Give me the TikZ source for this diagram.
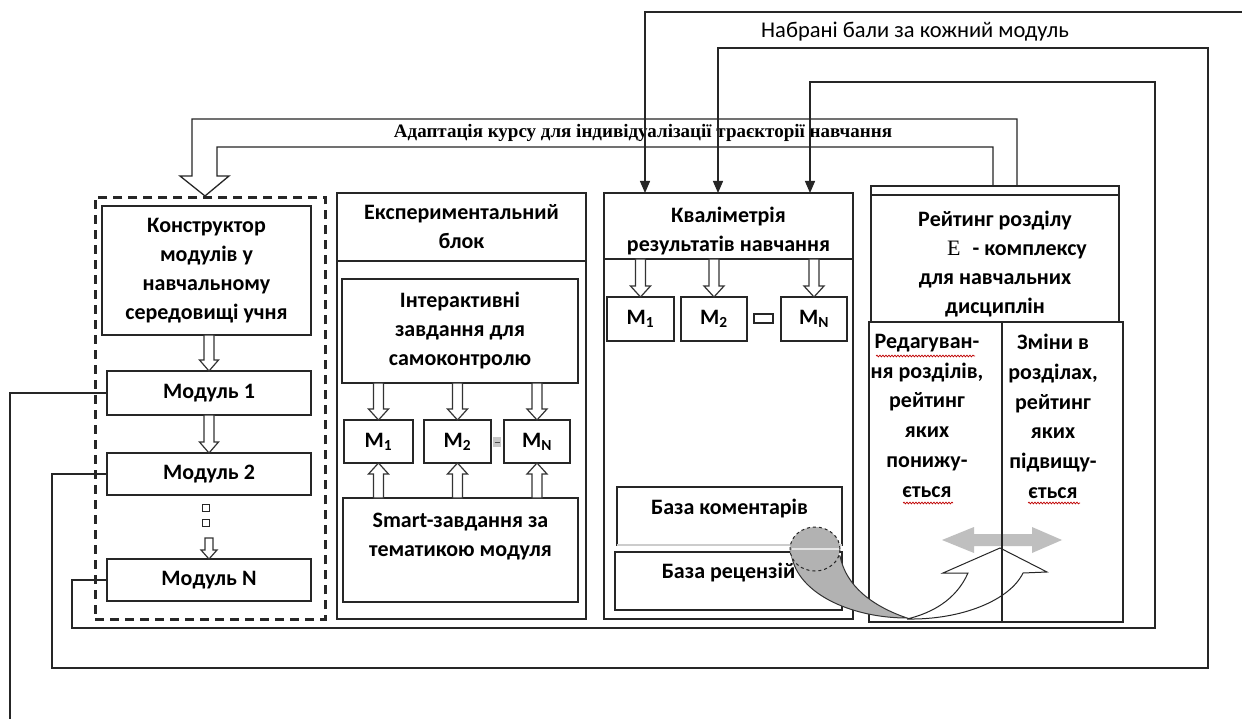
\documentclass[tikz,border=0pt]{standalone}
\usepackage{fontspec}
\newfontfamily\calib{Carlito}
\newfontfamily\tnr{Liberation Serif}
\usetikzlibrary{calc,arrows.meta,decorations.pathmorphing}
\newcommand\mybf{\calib\bfseries\fontsize{22}{29}\selectfont}
\newcommand\mybfw{\calib\bfseries\fontsize{22}{29.8}\selectfont}
\newcommand\myrg{\calib\fontsize{22.5}{26}\selectfont}
\tikzset{
 boxn/.style={draw=black!85, line width=1.3pt, inner sep=0pt, outer sep=0pt, anchor=north west, align=center, font=\mybf},
 txt/.style={inner sep=0pt, outer sep=0pt, align=center, font=\mybf},
 conn/.style={draw=black!85, line width=1.3pt},
 arr/.style={conn, -{Triangle[length=12pt,width=10pt]}},
 blk/.style={draw=black!80, line width=1.2pt, fill=white, line join=miter},
 squig/.style={draw=red!75!black, line width=0.7pt, decorate, decoration={snake, amplitude=0.9pt, segment length=3pt}},
}
\newcommand\bx[6]{\node[boxn, minimum width={(#4-#2)*1pt}, minimum height={(#5-#3)*1pt}] (#1) at (#2,#3) {#6};}
\newcommand\bdown[5]{\draw[blk] let \p1=#1, \p2=#2 in (\x2-#3pt,\y1) -- (\x2-#3pt,\y2+#5pt) -- (\x2-#4pt,\y2+#5pt) -- (\x2,\y2) -- (\x2+#4pt,\y2+#5pt) -- (\x2+#3pt,\y2+#5pt) -- (\x2+#3pt,\y1) -- cycle;}
\newcommand\bup[5]{\draw[blk] let \p1=#1, \p2=#2 in (\x2-#3pt,\y1) -- (\x2-#3pt,\y2-#5pt) -- (\x2-#4pt,\y2-#5pt) -- (\x2,\y2) -- (\x2+#4pt,\y2-#5pt) -- (\x2+#3pt,\y2-#5pt) -- (\x2+#3pt,\y1) -- cycle;}
\begin{document}
\begin{tikzpicture}[x=1pt,y=-1pt]
\useasboundingbox (0,0) rectangle (1242,719);
\fill[white] (0,0) rectangle (1242,719);

% ---- top labels
\node[font=\myrg, inner sep=0pt] (nab) at (915,32) {Набрані бали за кожний модуль};
\node[font=\tnr\bfseries\fontsize{19}{22}\selectfont, inner sep=0pt] (adapt) at (643,133) {Адаптація курсу для індивідуалізації траєкторії навчання};

% ---- left column
\node[draw=black!85, line width=2.6pt, dash pattern=on 9pt off 6pt, anchor=north west, inner sep=0pt, minimum width=230pt, minimum height=422pt] (dash) at (94,196) {};
\bx{konst}{102}{206}{311}{335}{Конструктор\\модулів у\\навчальному\\середовищі учня}
\bx{mod1}{107}{371}{311}{415}{Модуль 1}
\bx{mod2}{107}{453}{311}{495}{Модуль 2}
\bx{modN}{107}{559}{311}{601}{Модуль N}
\node[draw=black!85, line width=1.1pt, minimum size=7pt, inner sep=0pt] (sq1) at (206,508) {};
\node[draw=black!85, line width=1.1pt, minimum size=7pt, inner sep=0pt] (sq2) at (206,523) {};
\bdown{(konst.south)}{(mod1.north)}{5}{9.5}{11}
\bdown{(mod1.south)}{(mod2.north)}{5}{9.5}{11}
\bdown{($(modN.north)+(0,-21)$)}{(modN.north)}{4}{8}{9}

% ---- experimental block
\bx{exp}{337}{193}{586}{619}{}
\bx{exph}{337}{193}{586}{261}{Експериментальний\\блок}
\bx{inter}{342}{279}{578}{383}{Інтерактивні\\завдання для\\самоконтролю}
\bx{m1e}{344}{420}{413}{463}{M\textsubscript{1}}
\bx{m2e}{424}{420}{491}{463}{M\textsubscript{2}}
\bx{mne}{504}{420}{570}{463}{M\textsubscript{N}}
\node[fill=gray!45, minimum width=8pt, minimum height=10pt, inner sep=0pt] (gdot) at (497,442) {};
\draw[black!70, line width=1pt] ($(gdot.center)+(-2.5,0)$) -- ($(gdot.center)+(2.5,0)$);
\bx{smart}{343}{498}{578}{602}{}
\node[txt, anchor=north] (smartt) at (460.5,513) {Smart-завдання за\\тематикою модуля};
\bdown{(m1e.north |- inter.south)}{(m1e.north)}{5}{10}{11}
\bdown{(m2e.north |- inter.south)}{(m2e.north)}{5}{10}{11}
\bdown{(mne.north |- inter.south)}{(mne.north)}{5}{10}{11}
\bup{(m1e.south |- smart.north)}{(m1e.south)}{5}{10}{11}
\bup{(m2e.south |- smart.north)}{(m2e.south)}{5}{10}{11}
\bup{(mne.south |- smart.north)}{(mne.south)}{5}{10}{11}

% ---- qualimetry
\bx{kval}{604}{193}{853}{619}{}
\bx{kvalh}{604}{193}{853}{259}{}
\node[txt, anchor=north] (kvalt) at (728.5,207) {Кваліметрія\\результатів навчання};
\bx{m1k}{607}{297}{674}{341}{M\textsubscript{1}}
\bx{m2k}{681}{297}{747}{341}{M\textsubscript{2}}
\bx{mnk}{781}{297}{847}{341}{M\textsubscript{N}}
\node[draw=black!85, line width=1.1pt, minimum width=19pt, minimum height=9pt, inner sep=0pt] (gapk) at (763.5,318.5) {};
\bdown{(m1k.north |- kvalh.south)}{(m1k.north)}{5}{10}{11}
\bdown{(m2k.north |- kvalh.south)}{(m2k.north)}{5}{10}{11}
\bdown{(mnk.north |- kvalh.south)}{(mnk.north)}{5}{10}{11}
\bx{comm}{617}{487}{842}{545}{}
\draw[gray!40, line width=1.6pt] (comm.south west) -- (comm.south east);
\node[txt, anchor=north] (commt) at (729.5,499) {База коментарів};
\bx{rec}{615}{552}{842}{610}{}
\node[txt, anchor=north] (rect) at (728.5,563) {База рецензій};

% ---- rating
\bx{rstrip}{871}{186}{1119}{195}{}
\bx{rat}{871}{195}{1119}{322}{}
\node[txt, anchor=north] (ratt) at (995,211) {Рейтинг розділу\\\hspace*{44pt}{\tnr\mdseries E}\hspace{12pt}- комплексу\\для навчальних\\дисциплін};
\fill[gray!50] (942,540) -- (974,527) -- (974,534) -- (1032,534) -- (1032,527) -- (1062,540) -- (1032,553) -- (1032,546) -- (974,546) -- (974,553) -- cycle;
\bx{redag}{869}{322}{1002}{622}{}
\bx{zmin}{1002}{322}{1123}{622}{}
\node[txt, font=\mybfw, anchor=north] (redagt) at (927,334) {Редагуван-\\ня розділів,\\рейтинг\\яких\\понижу-\\ється};
\node[txt, font=\mybfw, anchor=north] (zmint) at (1053,334) {Зміни в\\розділах,\\рейтинг\\яких\\підвищу-\\ється};
\draw[squig] (876,356) -- (975,356);
\draw[squig] (903,503) -- (953,503);
\draw[squig] (1028,503) -- (1080,503);

% ---- connectors
\coordinate (kA) at (645,193);
\coordinate (kB) at (718,193);
\coordinate (kC) at (810,193);
\coordinate (aR) at (1250,12);
\coordinate (a1) at (10,730);
\coordinate (b1) at (52,668);
\coordinate (b2) at (1208,48);
\coordinate (c1) at (72,628);
\coordinate (c2) at (1155,82);
\coordinate (rD) at (1017,186);
\coordinate (rE) at (993,186);
\coordinate (bigtip) at (205,196);
\draw[arr] (aR) -| (kA);
\draw[conn] (mod1.west) -| (a1);
\draw[arr] (mod2.west) -| (b1) -| (b2) -| (kB);
\draw[arr] (modN.west) -| (c1) -| (c2) -| (kC);
\draw[conn, line join=miter] (rD) |- (192,119) -- (192,176) -- (180,176) -- (bigtip) -- (229,176) -- (217,176) -- (217,147) -| (rE);

% ---- curved arrow
\filldraw[fill=gray!60, draw=black!80, line width=1pt] (791,550) .. controls (793,592) and (850,618) .. (907,618) .. controls (872,606) and (846,586) .. (840,556) -- cycle;
\filldraw[fill=gray!60, draw=black!85, line width=1pt, dashed] (815,549) ellipse [x radius=25pt, y radius=22pt];
\draw[gray!20, line width=1.4pt] (792,549) -- (839,549);
\draw[black!85, line width=1pt, line join=miter] (907,619) .. controls (962,620) and (1010,600) .. (1023,573) -- (1047,572) -- (1000,548) -- (943,573) -- (968,573) .. controls (956,600) and (932,613) .. (907,619);
\end{tikzpicture}
\end{document}
